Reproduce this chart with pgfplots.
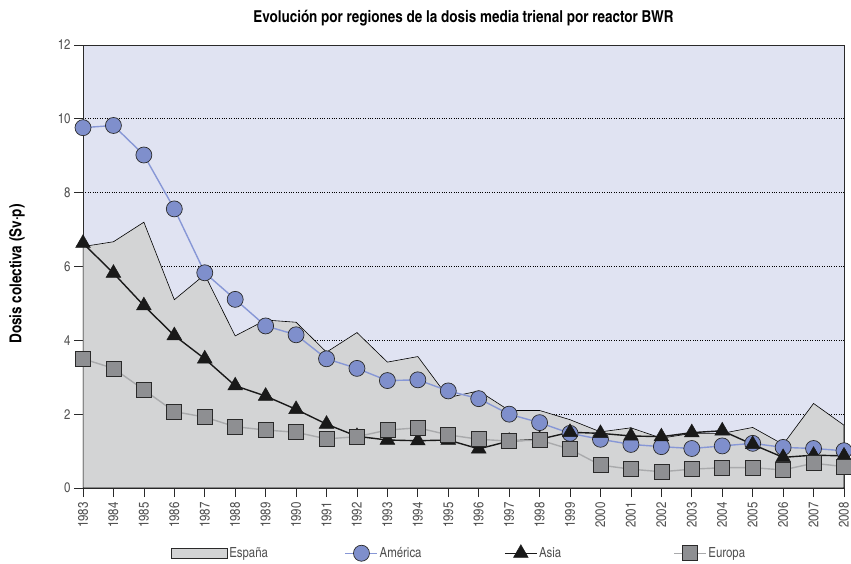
\documentclass[border=0pt]{standalone}
\usepackage{fontspec}
\setmainfont{TeX Gyre Heros Cn}
\usepackage{pgfplots}
\pgfplotsset{compat=1.18}
\definecolor{bgc}{HTML}{E0E3F2}
\definecolor{areac}{HTML}{D3D4D5}
\definecolor{amef}{HTML}{7F8FCC}
\definecolor{amel}{HTML}{8797D6}
\definecolor{eurf}{HTML}{8E8F92}
\definecolor{eurl}{HTML}{A9AAAC}
\definecolor{tickc}{HTML}{505050}
\definecolor{mkline}{HTML}{2A2A2A}

\pgfplotsset{
  lineleg/.style={legend image code/.code={\draw[mark repeat=2,mark phase=2,##1] plot coordinates {(0bp,0bp) (16bp,0bp) (32bp,0bp)};}},
  arealeg/.style={legend image code/.code={\draw[fill=areac, draw=mkline, line width=0.6pt] (0bp,-5bp) rectangle (56bp,5bp);}},
}

\pgfplotstableread{
year espana america asia europa
1983 6.54 9.76 6.63 3.50
1984 6.67 9.82 5.82 3.24
1985 7.20 9.02 4.94 2.66
1986 5.10 7.56 4.13 2.07
1987 5.78 5.83 3.50 1.92
1988 4.12 5.11 2.77 1.66
1989 4.55 4.39 2.49 1.57
1990 4.49 4.15 2.13 1.51
1991 3.68 3.50 1.73 1.33
1992 4.21 3.24 1.40 1.39
1993 3.41 2.91 1.30 1.57
1994 3.56 2.93 1.28 1.63
1995 2.45 2.63 1.30 1.44
1996 2.63 2.42 1.06 1.32
1997 2.10 2.00 1.27 1.27
1998 2.10 1.77 1.32 1.30
1999 1.85 1.48 1.51 1.05
2000 1.52 1.32 1.48 0.62
2001 1.63 1.18 1.41 0.51
2002 1.35 1.12 1.39 0.44
2003 1.48 1.07 1.50 0.51
2004 1.48 1.14 1.55 0.55
2005 1.64 1.21 1.18 0.55
2006 1.18 1.10 0.83 0.49
2007 2.29 1.07 0.89 0.67
2008 1.70 1.01 0.87 0.58
}\datatable

\begin{document}
\begin{tikzpicture}
\begin{axis}[name=ax, scale only axis, width=761bp, height=443bp,
  xmin=1983, xmax=2008, ymin=0, ymax=12,
  xtick={1983,...,2008}, ytick={0,2,...,12},
  /pgf/number format/assume math mode=true,
  /pgf/number format/1000 sep={},
  x tick label style={rotate=90, anchor=east, font=\fontsize{14}{16}\selectfont, text=tickc, xshift=-2bp},
  y tick label style={font=\fontsize{14}{16}\selectfont, text=tickc},
  tick align=outside, tick pos=left, major tick length=9bp,
  tick style={draw=mkline, line width=0.7pt},
  ymajorgrids, grid style={black, dotted, line width=0.7pt},
  axis background/.style={fill=bgc},
  axis line style={draw=mkline, line width=0.8pt},
  title={Evolución por regiones de la dosis media trienal por reactor BWR},
  title style={font=\bfseries\fontsize{16.5}{18}\selectfont, at={(axis description cs:0.5,1)}, anchor=base, yshift=17bp},
  ylabel={Dosis colectiva (Sv·p)},
  ylabel style={font=\bfseries\fontsize{16.5}{18}\selectfont, at={(axis description cs:-0.0867,0.483)}, anchor=center},
  legend columns=4,
  legend style={draw=none, fill=none, at={(axis description cs:0.1156,-0.1467)}, anchor=west,
    font=\fontsize{14}{16}\selectfont, text=tickc, inner sep=0pt,
    nodes={inner sep=1.5bp}, column sep=0pt},
]
\addplot[fill=areac, draw=black, line width=0.6pt, arealeg]
  table[x=year, y=espana] {\datatable} \closedcycle;
\addlegendentry{\makebox[114bp][l]{España}}
\addplot[color=amel, line width=1.4pt, mark=*, mark size=8bp,
  mark options={fill=amef, draw=mkline, line width=0.7pt}, lineleg]
  table[x=year, y=america] {\datatable};
\addlegendentry{\makebox[123bp][l]{América}}
\addplot[color=black!90, line width=1.4pt, mark=triangle*, mark size=8.5bp,
  mark options={fill=black!90, draw=black!90, line width=0.5pt}, lineleg]
  table[x=year, y=asia] {\datatable};
\addlegendentry{\makebox[133bp][l]{Asia}}
\addplot[color=eurl, line width=1.4pt, mark=square*, mark size=7.5bp,
  mark options={fill=eurf, draw=mkline, line width=0.7pt}, lineleg]
  table[x=year, y=europa] {\datatable};
\addlegendentry{Europa}
\end{axis}
\pgfresetboundingbox
\path ([xshift=-83bp,yshift=-76bp]ax.south west) rectangle ([xshift=7bp,yshift=45bp]ax.north east);
\end{tikzpicture}
\end{document}
